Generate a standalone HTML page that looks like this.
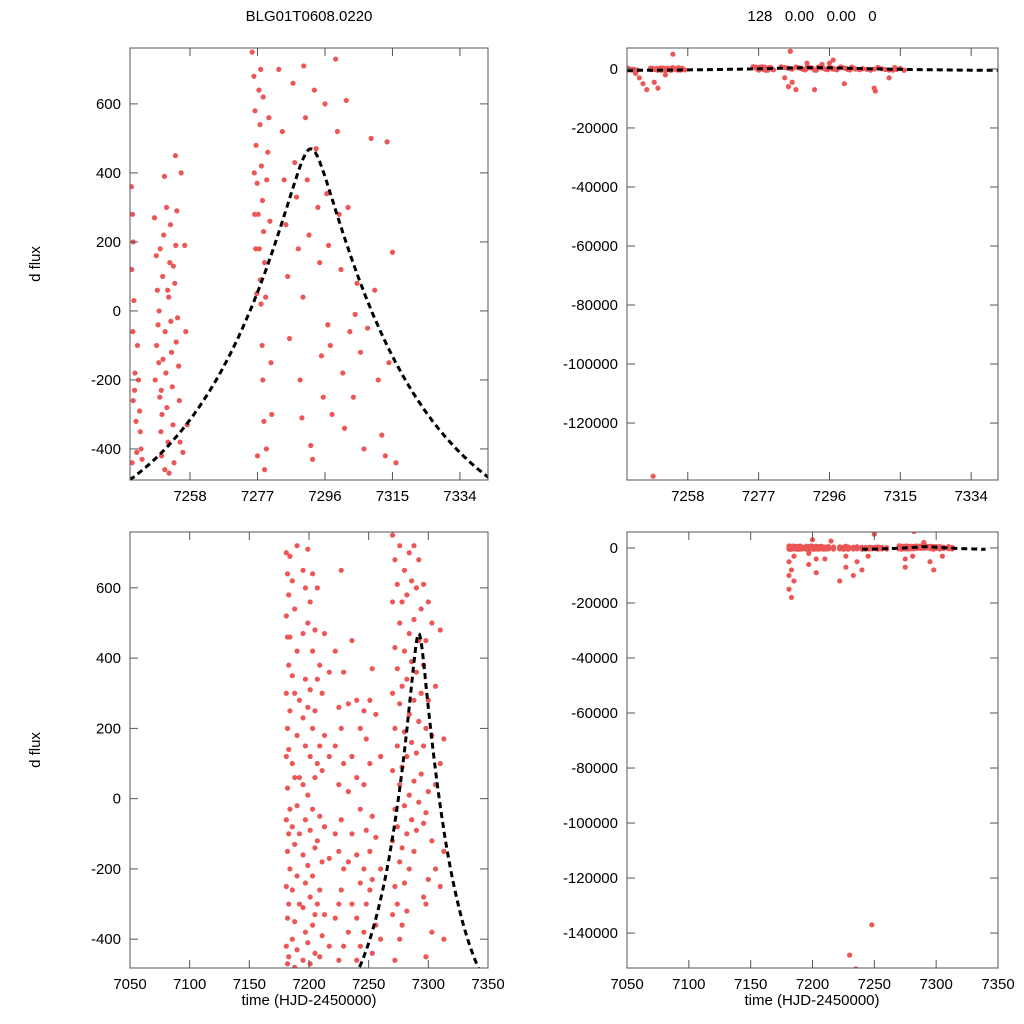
<!DOCTYPE html>
<html><head><meta charset="utf-8"><style>
html,body{margin:0;padding:0;background:#fff;overflow:hidden;width:1024px;height:1024px;font-family:"Liberation Sans",sans-serif}
svg{display:block;position:absolute;left:0;top:0}
svg text{font-family:"Liberation Sans",sans-serif;font-size:15px;fill:#000}
</style></head><body>
<svg id="fig" width="1024" height="1024" viewBox="0 0 1024 1024" overflow="hidden" xmlns="http://www.w3.org/2000/svg">
<rect width="1024" height="1024" fill="#fff"/>
<text x="309" y="21" text-anchor="middle">BLG01T0608.0220</text>
<text x="812" y="21" text-anchor="middle" xml:space="preserve">128   0.00   0.00   0</text>
<text transform="translate(40,264) rotate(-90)" text-anchor="middle">d flux</text>
<text transform="translate(40,750) rotate(-90)" text-anchor="middle">d flux</text>
<text x="309" y="1005" text-anchor="middle">time (HJD-2450000)</text>
<text x="812" y="1005" text-anchor="middle">time (HJD-2450000)</text>
</svg>
<script>
// model parameters: t0, amp, base, scale, core
const modelParams = [7292, 1302, -700, 28, 3];
const topTimes = [7241.5,7241.8,7242,7241.6,7242.2,7241.9,7242.5,7242,7242.8,7243,7241.7,7243.5,7243.2,7244,7244.5,7242.4,7243.8,7244.2,
7248,7248.5,7248.8,7249,7249.2,7249.5,7249.8,7250,7248.2,7248.6,7249.3,7250.3,7250.6,7250.8,7251,7251.2,7251.5,7251.8,7252,7252.3,7252.5,7252.8,7253,7253.2,7253.5,7253.7,7254,7254.3,7254.5,7254.8,7255,7255.2,7253.9,7255.5,7250.1,7249.6,7251.4,7252.6,7254.1,7253.3,7250.9,7252.1,7256.8,7256.5,7257.2,7256,7250.4,7251.7,7249.9,
7245,7246,7247,7249,7250,7248.7,7254,7244,7252,
7275.5,7276,7276.3,7276.6,7276.9,7277.2,7277.5,7277.8,7278,7278.3,7278.5,7278.8,7279,7277,7276.2,7276.5,7276.8,7277.4,7277.7,7278.1,7278.4,7278.7,7279,7279.3,7279.6,7279.9,7280.2,7280.5,7280.8,7281,7277.9,7276.1,7279.5,7278.6,
7283,7284,7284.5,7285,7285.5,7286,7287,7287.5,7288,7288.5,7289,7289.5,7290,7290.5,7291,7291.5,7292,7292.5,7293,7293.5,7294,7294.5,7295,7295.5,7296,7296.5,7297,7297.5,7298,7299,7299.5,7300,7300.5,7301,7301.5,7302,7302.5,7303,7304,7305,7306,7307,7309,7310,7311,7312,7313,7313.5,7314,7315,7316,7308,7304.5,7296.8,7289.8,
7284,7285,7286,7287,7285.5,7292,7297,7296,7300,7308,7308.3,7312,7294,7290];
const topFlux = [360,280,200,120,30,-60,-180,-260,-320,-410,-440,-200,-100,-350,-430,-230,-290,-400,
270,160,60,-40,-150,-250,-350,-420,-200,-100,0,100,220,390,-60,-180,-280,-380,40,140,250,-120,-220,-330,-440,80,190,290,-20,-160,-260,-380,450,400,-300,180,300,-30,-90,130,-460,-470,-60,190,-330,-410,-140,60,-230,
-3000,-5000,-7000,-4500,-6500,-138000,5000,-1500,-2000,
750,680,580,480,370,280,180,90,20,-100,-200,-320,-460,-420,280,180,50,640,540,420,320,230,140,40,380,460,560,260,-150,-300,700,400,-400,620,
700,520,380,250,100,-80,660,430,330,180,-200,-310,710,560,380,220,-390,-430,640,470,300,140,-130,-250,600,340,190,-100,-300,730,520,280,120,-180,-340,610,300,-60,-250,80,-120,-400,500,60,-200,-360,-420,490,-150,170,-440,-50,-10,-40,40,
-3000,-6000,-4500,-7000,6000,-7000,3000,2000,-5000,-6500,-7500,-3000,1500,2000];
const bottomTimes = [7181,7182,7183,7184,7186,7188,7190,7192,7195,7197,7199,7201,7203,7205,7207,7209,7211,7213,7217,7222,7225,7227,7229,7233,7236,7240,7243,7246,7248,7251,7253,7256,7260,7270,7272,7274,7276,7278,7280,7282,7284,7286,7288,7290,7292,7294,7296,7298,7300,7303,7306,7310,7313,
7181,7183,7185,7197,7203,7210,7222,7227,7233,7236,7240,7245,7230,7235,7248,7275,7281,7290,7295,7298,7305,7200,7215,7250,7282];
const bottomFlux = [[700,520,300,120,-60,-250,-420],[640,460,200,30,-150,-340,-470],[580,380,140,-100,-300,-450],[-30,250,690,-200,460],[620,350,100,-80,-260,-400],[540,300,60,-130,-350,-480],[720,420,180,-20,-220,-430],[-100,60,280,-300],[650,470,230,40,-160,-310,-460],[600,340,150,-60,-240,-380],[710,500,260,10,-190,-410],[560,310,120,-90,-280,-470],[640,420,200,-30,-220,-360],[480,250,60,-140,-330,-440],[600,340,100,-120,-300],[380,150,-50,-260,-450],[300,80,-180,-390],[470,180,-80,-330],[360,120,-170,-420],[420,150,-100,-340],[260,40,-150,-300,-460],[650,200,-60,-260],[360,100,-200,-420],[270,20,-180,-380],[450,120,-100,-300],[280,60,-160,-340,-460],[200,-30,-240,-420],[250,40,-200,-380],[170,-90,-300],[280,100,-150,-260],[370,-50,-230,-440],[240,-110,-360],[120,-200,-400],[750,560,300,80,-120,-330],[680,430,200,-30,-250,-460],[610,370,150,-80,-300],[720,500,270,40,-180,-400],[560,320,90,-140,-360],[650,420,190,-20,-240],[580,340,120,-100,-320],[700,470,240,10,-200],[620,390,160,-60],[720,510,280,50,-150],[600,360,130,-90],[680,450,220,-10],[540,300,70],[610,380,150,-70,-280],[450,200,-40,-300,-450],[560,280,20,-230],[500,180,-120,-380],[320,40,-200],[480,100,-250],[170,-150,-400],
[-5000,-10000,-15000],[-18000,-8000],[-12000,-3000],[-6000,-2000],[-9000,-4000],[-4000],[-12000],[-7000,-3000],[-10000],[-5000],[-8000],[-3000],[-148000],[-153000],[-137000],[-4000,-7000],[-3000],[2000],[-5000],[-8000],[-3000],[3000],[2500],[5000],[6000]];
const topXTicks = [7258,7277,7296,7315,7334];
const bottomXTicks = [7050,7100,7150,7200,7250,7300,7350];
const smallYTicks = [-400,-200,0,200,400,600];
const topRightYTicks = [0,-20000,-40000,-60000,-80000,-100000,-120000];
const bottomRightYTicks = [0,-20000,-40000,-60000,-80000,-100000,-120000,-140000];

const NS='http://www.w3.org/2000/svg';
const svg=document.getElementById('fig');
function mk(tag,attrs,parent){const e=document.createElementNS(NS,tag);for(const k in attrs)e.setAttribute(k,attrs[k]);(parent||svg).appendChild(e);return e;}
function model(t){const dt=t-modelParams[0];return modelParams[2]+modelParams[1]*Math.exp(-Math.sqrt(dt*dt+modelParams[4]*modelParams[4])/modelParams[3]);}

const bt=[],bf=[];
bottomTimes.forEach((t,i)=>bottomFlux[i].forEach(v=>{bt.push(t);bf.push(v);}));

function panel(name,x0,y0,x1,y1,xmin,xmax,ymin,ymax,xt,yt,ts,fs,m0,m1){
  const sx=v=>x0+(v-xmin)/(xmax-xmin)*(x1-x0);
  const sy=v=>y1-(v-ymin)/(ymax-ymin)*(y1-y0);
  const g=mk('g',{});
  
  
  const cid='clip-'+name;
  const cp=mk('clipPath',{id:cid},g);mk('rect',{x:x0,y:y0,width:x1-x0,height:y1-y0},cp);
  const pg=mk('g',{'clip-path':'url(#'+cid+')'},g);
  ts.forEach((t,i)=>{const c=mk('circle',{cx:sx(t),cy:sy(fs[i]),r:2.6,fill:'#ec5656'},pg);
    
    });
  let d='';for(let t=m0;t<=m1;t+=0.25){d+=(d?'L':'M')+sx(t).toFixed(1)+','+sy(model(t)).toFixed(1);}
  const p=mk('path',{d:d,fill:'none',stroke:'#000','stroke-width':3,'stroke-dasharray':'6,4'},pg);
  
  
  mk('rect',{x:x0,y:y0,width:x1-x0,height:y1-y0,fill:'none',stroke:'#555','stroke-width':1},g);
  xt.forEach(v=>{const X=sx(v);
    mk('line',{x1:X,x2:X,y1:y1,y2:y1-8,stroke:'#555'},g);mk('line',{x1:X,x2:X,y1:y0,y2:y0+8,stroke:'#555'},g);
    const tx=mk('text',{x:X,y:y1+21,'text-anchor':'middle'},g);tx.textContent=v;
    
    });
  yt.forEach(v=>{const Y=sy(v);
    mk('line',{x1:x0,x2:x0+8,y1:Y,y2:Y,stroke:'#555'},g);mk('line',{x1:x1,x2:x1-8,y1:Y,y2:Y,stroke:'#555'},g);
    const tx=mk('text',{x:x0-9,y:Y+5,'text-anchor':'end'},g);tx.textContent=v;
    
    });
}
panel('panel-top-left',130,48,488,480,7241.1,7341.9,-490,762,topXTicks,smallYTicks,topTimes,topFlux,7241,7342);
panel('panel-top-right',627,48,998,480,7241.7,7341.2,-139300,7100,topXTicks,topRightYTicks,topTimes,topFlux,7241.7,7341.2);
panel('panel-bottom-left',130,532,488,968,7050,7350,-482,759,bottomXTicks,smallYTicks,bt,bf,7235,7345);
panel('panel-bottom-right',627,532,998,968,7050,7350,-152700,5800,bottomXTicks,bottomRightYTicks,bt,bf,7240,7340);
</script>
</body></html>
